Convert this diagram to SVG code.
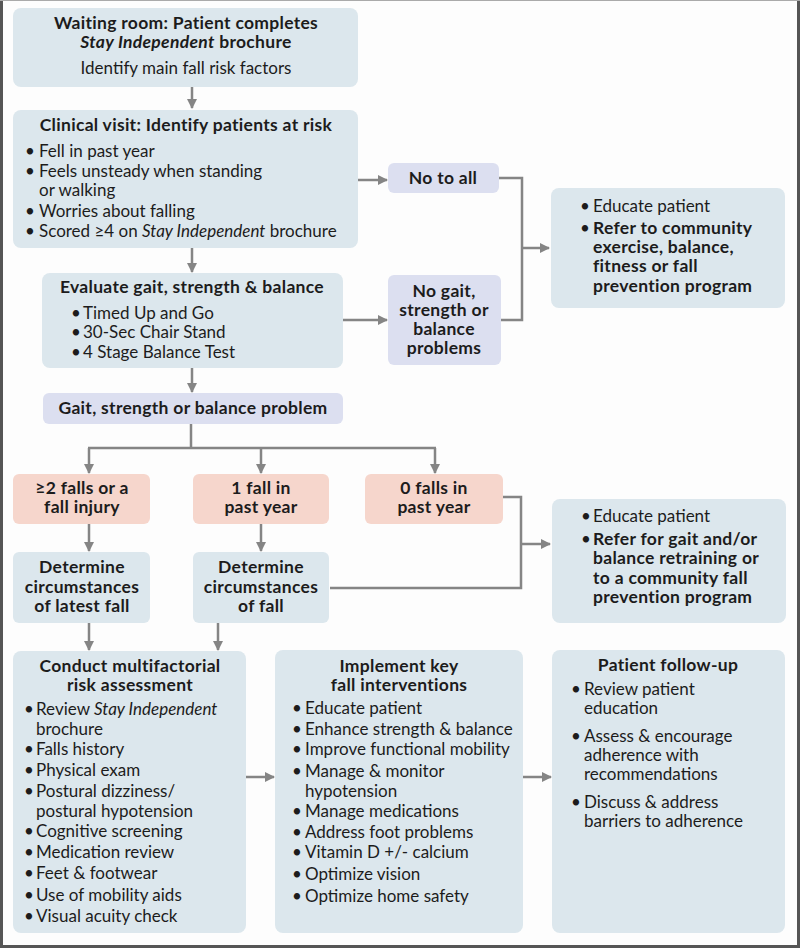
<svg xmlns="http://www.w3.org/2000/svg" width="800" height="948" viewBox="0 0 800 948">
<defs>
<style>
text{font-family:Lato,"Noto Sans","DejaVu Sans",sans-serif;font-size:17px;fill:#1c1c1c}
.b{font-weight:700;font-size:17.5px;letter-spacing:0.3px}
.c{text-anchor:middle}
.i{font-style:italic}
.blue{fill:#dce7ed}
.lav{fill:#dcdff0}
.pink{fill:#f6d6cc}
.ln{fill:none;stroke:#858585;stroke-width:2.5}
</style>
<marker id="ah" viewBox="0 0 10 10" refX="9" refY="5" markerWidth="4" markerHeight="4" orient="auto" markerUnits="strokeWidth">
<path d="M0,0 L10,5 L0,10 Z" fill="#858585"/>
</marker>
</defs>
<rect width="800" height="948" fill="#fdfdfd"/>
<g id="frame" fill="none" stroke="#555" >
<line x1="1.5" y1="0" x2="1.5" y2="948" stroke-width="3"/>
<line x1="798.5" y1="0" x2="798.5" y2="948" stroke-width="3"/>
<line x1="0" y1="946.5" x2="800" y2="946.5" stroke-width="3"/>
<line x1="0" y1="0.5" x2="800" y2="0.5" stroke-width="1" stroke="#aaa"/>
</g>

<g id="connectors">
<line class="ln" x1="192" y1="87" x2="192" y2="108" marker-end="url(#ah)"/>
<line class="ln" x1="192" y1="248" x2="192" y2="272" marker-end="url(#ah)"/>
<line class="ln" x1="192" y1="368" x2="192" y2="392" marker-end="url(#ah)"/>
<line class="ln" x1="358" y1="180" x2="387" y2="180" marker-end="url(#ah)"/>
<line class="ln" x1="343" y1="320" x2="387" y2="320" marker-end="url(#ah)"/>
<polyline class="ln" points="499,178 522,178 522,320 501,320"/>
<line class="ln" x1="522" y1="248" x2="549" y2="248" marker-end="url(#ah)"/>
<line class="ln" x1="191" y1="424" x2="191" y2="448"/>
<line class="ln" x1="88" y1="448" x2="436" y2="448"/>
<line class="ln" x1="89" y1="448" x2="89" y2="473" marker-end="url(#ah)"/>
<line class="ln" x1="261" y1="448" x2="261" y2="473" marker-end="url(#ah)"/>
<line class="ln" x1="435" y1="448" x2="435" y2="473" marker-end="url(#ah)"/>
<line class="ln" x1="89" y1="524" x2="89" y2="551" marker-end="url(#ah)"/>
<line class="ln" x1="261" y1="524" x2="261" y2="551" marker-end="url(#ah)"/>
<polyline class="ln" points="503,497 521,497 521,588 330,588"/>
<line class="ln" x1="521" y1="544" x2="550" y2="544" marker-end="url(#ah)"/>
<line class="ln" x1="89" y1="623" x2="89" y2="650" marker-end="url(#ah)"/>
<line class="ln" x1="218" y1="623" x2="218" y2="650" marker-end="url(#ah)"/>
<line class="ln" x1="246" y1="777" x2="274" y2="777" marker-end="url(#ah)"/>
<line class="ln" x1="523" y1="777" x2="551" y2="777" marker-end="url(#ah)"/>
</g>

<g id="waiting">
<rect class="blue" x="13" y="8" width="345" height="79" rx="8"/>
<text class="b c" x="186" y="29">Waiting room: Patient completes</text>
<text class="b c" x="186" y="48"><tspan class="i">Stay Independent</tspan> brochure</text>
<text class="c" x="186" y="74">Identify main fall risk factors</text>
</g>

<g id="clinical">
<rect class="blue" x="13" y="110" width="345" height="138" rx="8"/>
<text class="b c" x="186" y="131">Clinical visit: Identify patients at risk</text>
<text x="25" y="157">•</text><text x="39" y="157">Fell in past year</text>
<text x="25" y="177">•</text><text x="39" y="177">Feels unsteady when standing</text>
<text x="39" y="196">or walking</text>
<text x="25" y="217">•</text><text x="39" y="217">Worries about falling</text>
<text x="25" y="237">•</text><text x="39" y="237">Scored ≥4 on <tspan class="i">Stay Independent</tspan> brochure</text>
</g>

<g id="noall">
<rect class="lav" x="388" y="163" width="111" height="30" rx="6"/>
<text class="b c" x="443" y="184">No to all</text>
</g>

<g id="refer1">
<rect class="blue" x="551" y="188" width="234" height="120" rx="8"/>
<text x="580" y="212">•</text><text x="593" y="212">Educate patient</text>
<text x="580" y="234">•</text><text class="b" x="593" y="234">Refer to community</text>
<text class="b" x="593" y="253">exercise, balance,</text>
<text class="b" x="593" y="272">fitness or fall</text>
<text class="b" x="593" y="292">prevention program</text>
</g>

<g id="evaluate">
<rect class="blue" x="42" y="273" width="301" height="95" rx="8"/>
<text class="b c" x="192" y="293">Evaluate gait, strength &amp; balance</text>
<text x="71" y="319">•</text><text x="83" y="319">Timed Up and Go</text>
<text x="71" y="338">•</text><text x="83" y="338">30-Sec Chair Stand</text>
<text x="71" y="358">•</text><text x="83" y="358">4 Stage Balance Test</text>
</g>

<g id="nogait">
<rect class="lav" x="388" y="275" width="113" height="90" rx="6"/>
<text class="b c" x="444" y="297">No gait,</text>
<text class="b c" x="444" y="316">strength or</text>
<text class="b c" x="444" y="335">balance</text>
<text class="b c" x="444" y="354">problems</text>
</g>

<g id="gaitproblem">
<rect class="lav" x="43" y="393" width="300" height="31" rx="6"/>
<text class="b c" x="193" y="414">Gait, strength or balance problem</text>
</g>

<g id="falls2">
<rect class="pink" x="13" y="474" width="137" height="50" rx="6"/>
<text class="b c" x="82" y="494">≥2 falls or a</text>
<text class="b c" x="82" y="513">fall injury</text>
</g>
<g id="falls1">
<rect class="pink" x="193" y="474" width="136" height="50" rx="6"/>
<text class="b c" x="261" y="494">1 fall in</text>
<text class="b c" x="261" y="513">past year</text>
</g>
<g id="falls0">
<rect class="pink" x="365" y="474" width="138" height="50" rx="6"/>
<text class="b c" x="434" y="494">0 falls in</text>
<text class="b c" x="434" y="513">past year</text>
</g>

<g id="det1">
<rect class="blue" x="13" y="552" width="137" height="71" rx="6"/>
<text class="b c" x="82" y="573">Determine</text>
<text class="b c" x="82" y="593">circumstances</text>
<text class="b c" x="82" y="612">of latest fall</text>
</g>
<g id="det2">
<rect class="blue" x="193" y="552" width="136" height="71" rx="6"/>
<text class="b c" x="261" y="573">Determine</text>
<text class="b c" x="261" y="593">circumstances</text>
<text class="b c" x="261" y="612">of fall</text>
</g>

<g id="refer2">
<rect class="blue" x="552" y="499" width="234" height="124" rx="8"/>
<text x="581" y="522">•</text><text x="593" y="522">Educate patient</text>
<text x="581" y="545">•</text><text class="b" x="593" y="545">Refer for gait and/or</text>
<text class="b" x="593" y="564">balance retraining or</text>
<text class="b" x="593" y="584">to a community fall</text>
<text class="b" x="593" y="603">prevention program</text>
</g>

<g id="assessment">
<rect class="blue" x="13" y="651" width="233" height="282" rx="8"/>
<text class="b c" x="130" y="672">Conduct multifactorial</text>
<text class="b c" x="130" y="691">risk assessment</text>
<text x="24" y="715">•</text><text x="36" y="715">Review <tspan class="i">Stay Independent</tspan></text>
<text x="36" y="735">brochure</text>
<text x="24" y="755">•</text><text x="36" y="755">Falls history</text>
<text x="24" y="776">•</text><text x="36" y="776">Physical exam</text>
<text x="24" y="797">•</text><text x="36" y="797">Postural dizziness/</text>
<text x="36" y="817">postural hypotension</text>
<text x="24" y="837">•</text><text x="36" y="837">Cognitive screening</text>
<text x="24" y="858">•</text><text x="36" y="858">Medication review</text>
<text x="24" y="879">•</text><text x="36" y="879">Feet &amp; footwear</text>
<text x="24" y="901">•</text><text x="36" y="901">Use of mobility aids</text>
<text x="24" y="922">•</text><text x="36" y="922">Visual acuity check</text>
</g>

<g id="interventions">
<rect class="blue" x="275" y="650" width="248" height="283" rx="8"/>
<text class="b c" x="399" y="672">Implement key</text>
<text class="b c" x="399" y="691">fall interventions</text>
<text x="292" y="714">•</text><text x="305" y="714">Educate patient</text>
<text x="292" y="735">•</text><text x="305" y="735">Enhance strength &amp; balance</text>
<text x="292" y="755">•</text><text x="305" y="755">Improve functional mobility</text>
<text x="292" y="777">•</text><text x="305" y="777">Manage &amp; monitor</text>
<text x="305" y="797">hypotension</text>
<text x="292" y="817">•</text><text x="305" y="817">Manage medications</text>
<text x="292" y="838">•</text><text x="305" y="838">Address foot problems</text>
<text x="292" y="858">•</text><text x="305" y="858">Vitamin D +/- calcium</text>
<text x="292" y="880">•</text><text x="305" y="880">Optimize vision</text>
<text x="292" y="902">•</text><text x="305" y="902">Optimize home safety</text>
</g>

<g id="followup">
<rect class="blue" x="552" y="650" width="233" height="283" rx="8"/>
<text class="b c" x="668" y="671">Patient follow-up</text>
<text x="571" y="695">•</text><text x="584" y="695">Review patient</text>
<text x="584" y="714">education</text>
<text x="571" y="742">•</text><text x="584" y="742">Assess &amp; encourage</text>
<text x="584" y="761">adherence with</text>
<text x="584" y="780">recommendations</text>
<text x="571" y="808">•</text><text x="584" y="808">Discuss &amp; address</text>
<text x="584" y="827">barriers to adherence</text>
</g>
</svg>
